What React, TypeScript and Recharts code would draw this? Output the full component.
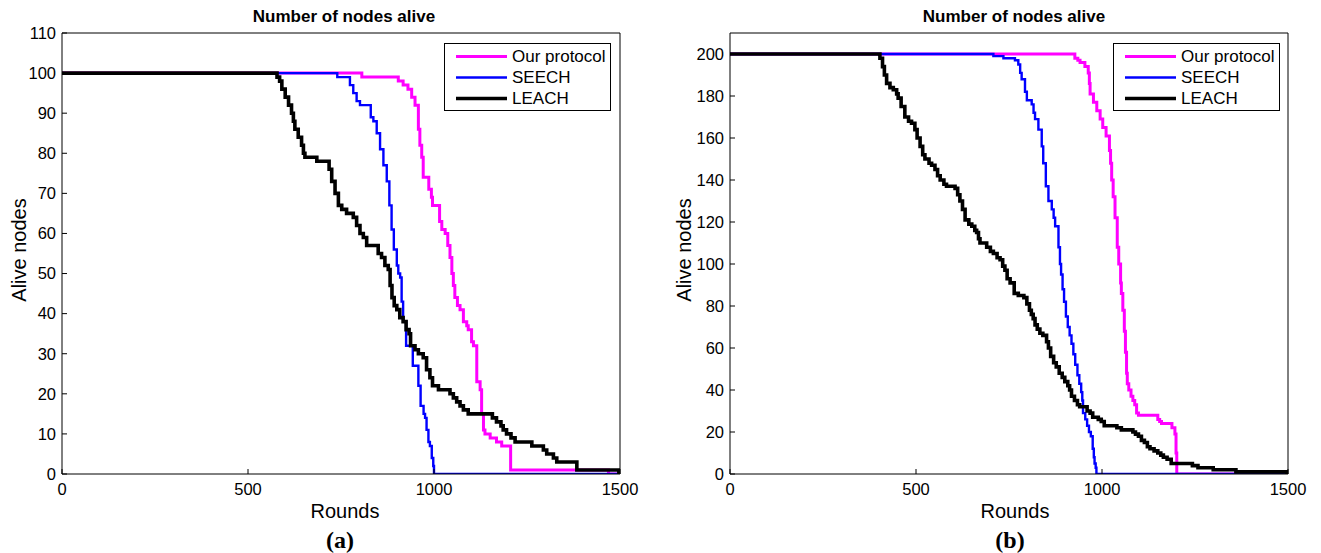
import React from 'react';
import { LineChart, Line, XAxis, YAxis, Legend } from 'recharts';

const FONT = '"Liberation Sans", Arial, Helvetica, sans-serif';

// ---------- shared ----------
const roundTicks = [0, 500, 1000, 1500];
const aliveTicksA = [0, 10, 20, 30, 40, 50, 60, 70, 80, 90, 100, 110];
const aliveTicksB = [0, 20, 40, 60, 80, 100, 120, 140, 160, 180, 200];

const seriesNames = ['Our protocol', 'SEECH', 'LEACH'];
const seriesColors = ['#ff00ff', '#0000ff', '#000000'];
const seriesWidths = [3, 2.4, 3.6];

// ---------- panel (a): 100 nodes ----------
const oursRoundsA = [0, 806, 904, 917, 930, 940, 949, 958, 962, 967, 971, 986, 993, 996, 1015, 1021, 1030, 1037, 1043, 1048, 1052, 1056, 1063, 1070, 1079, 1088, 1092, 1101, 1106, 1115, 1124, 1128, 1133, 1137, 1151, 1168, 1182, 1206, 1469, 1500];
const oursAliveA = [100, 99, 98, 97, 96, 94, 92, 86, 82, 79, 74, 71, 69, 67, 63, 61, 60, 57, 54, 50, 47, 44, 42, 41, 38, 37, 36, 33, 32, 23, 21, 15, 11, 10, 9, 8, 7, 1, 0, 0];

const seechRoundsA = [0, 740, 774, 783, 792, 801, 830, 837, 846, 855, 864, 873, 880, 886, 892, 900, 904, 909, 913, 917, 925, 943, 958, 964, 972, 976, 980, 985, 989, 994, 998, 1000, 1500];
const seechAliveA = [100, 99, 97, 95, 93, 92, 89, 88, 85, 81, 77, 73, 67, 61, 56, 52, 50, 49, 43, 38, 32, 27, 22, 17, 15, 14, 11, 8, 7, 4, 2, 0, 0];

const leachRoundsA = [0, 578, 585, 591, 600, 609, 617, 622, 626, 635, 644, 649, 653, 685, 718, 725, 734, 743, 752, 765, 783, 792, 801, 810, 819, 850, 859, 868, 877, 882, 887, 893, 900, 908, 917, 925, 933, 937, 949, 958, 971, 980, 989, 996, 1012, 1025, 1043, 1052, 1061, 1070, 1079, 1092, 1157, 1168, 1180, 1186, 1195, 1207, 1218, 1240, 1263, 1294, 1303, 1321, 1330, 1384, 1497, 1500];
const leachAliveA = [100, 99, 98, 96, 94, 92, 90, 88, 86, 84, 82, 80, 79, 78, 76, 73, 70, 67, 66, 65, 64, 62, 60, 59, 57, 55, 54, 52, 51, 47, 44, 42, 41, 39, 38, 36, 35, 32, 31, 30, 29, 26, 24, 22, 21, 21, 20, 19, 18, 17, 16, 15, 14, 13, 12, 11, 10, 9, 8, 8, 7, 6, 5, 4, 3, 1, 0, 0];

// ---------- panel (b): 200 nodes ----------
const oursRoundsB = [0, 927, 935, 941, 954, 963, 966, 968, 977, 986, 995, 1002, 1011, 1020, 1023, 1026, 1030, 1035, 1041, 1045, 1050, 1052, 1056, 1060, 1063, 1066, 1068, 1072, 1078, 1083, 1088, 1093, 1098, 1150, 1155, 1160, 1188, 1196, 1199, 1201, 1500];
const oursAliveB = [200, 198, 197, 196, 194, 191, 186, 181, 177, 173, 169, 165, 161, 154, 148, 140, 132, 122, 108, 100, 91, 86, 78, 68, 58, 48, 43, 40, 37, 35, 33, 29, 28, 26, 25, 24, 22, 19, 10, 0, 0];

const seechRoundsB = [0, 708, 735, 766, 775, 780, 784, 793, 798, 811, 816, 820, 829, 838, 842, 849, 856, 865, 870, 874, 883, 887, 890, 894, 898, 903, 908, 913, 918, 923, 928, 934, 939, 944, 947, 949, 955, 960, 965, 970, 975, 978, 980, 983, 985, 1500];
const seechAliveB = [200, 199, 198, 197, 195, 191, 188, 182, 178, 176, 172, 169, 164, 156, 148, 137, 130, 126, 122, 118, 108, 100, 95, 88, 82, 75, 70, 66, 62, 57, 52, 47, 43, 39, 35, 29, 26, 23, 20, 18, 12, 8, 5, 3, 0, 0];

const leachRoundsB = [0, 403, 410, 415, 421, 430, 439, 448, 452, 460, 470, 480, 488, 497, 503, 511, 518, 524, 535, 542, 551, 558, 565, 575, 582, 605, 612, 618, 625, 632, 642, 650, 658, 663, 668, 672, 690, 700, 708, 718, 726, 733, 739, 745, 753, 764, 775, 790, 798, 805, 810, 815, 820, 826, 833, 841, 851, 856, 862, 870, 877, 885, 893, 900, 908, 913, 918, 926, 934, 940, 960, 968, 975, 990, 998, 1006, 1040, 1052, 1083, 1090, 1098, 1106, 1114, 1122, 1129, 1140, 1150, 1158, 1165, 1175, 1186, 1243, 1258, 1299, 1360, 1497, 1500];
const leachAliveB = [200, 198, 194, 190, 186, 184, 183, 181, 179, 175, 170, 168, 167, 164, 160, 156, 152, 150, 148, 147, 145, 142, 140, 138, 137, 136, 133, 130, 126, 121, 119, 118, 116, 115, 112, 110, 108, 106, 105, 103, 102, 99, 97, 93, 91, 86, 85, 84, 81, 78, 76, 74, 71, 69, 67, 66, 63, 60, 56, 53, 51, 48, 46, 44, 42, 40, 37, 35, 33, 32, 30, 29, 27, 26, 25, 23, 22, 21, 20, 19, 18, 16, 15, 13, 12, 11, 10, 9, 8, 7, 5, 4, 3, 2, 1, 0, 0];

type Pt = { r: number; v: number };
const zip = (rs: number[], vs: number[]): Pt[] => rs.map((r, i) => ({ r, v: vs[i] }));

const tickStyle = { fill: '#000', fontSize: 16.5, fontFamily: FONT };

function LegendBox(props: any) {
  const payload = props.payload || [];
  const items = seriesNames.map((n, i) => {
    const found = payload.find((p: any) => p.value === n);
    return { name: n, color: found ? found.color : seriesColors[i], w: seriesWidths[i] };
  });
  return (
    <div
      style={{
        boxSizing: 'border-box',
        width: 167,
        height: 68,
        border: '1px solid #000',
        background: '#fff',
        paddingTop: 2,
        fontFamily: FONT,
        fontSize: 17,
        color: '#000',
      }}
    >
      {items.map((it) => (
        <div key={it.name} style={{ display: 'flex', alignItems: 'center', height: 21 }}>
          <svg width={67} height={21} style={{ display: 'block' }}>
            <line x1={11} x2={62} y1={10.5} y2={10.5} stroke={it.color} strokeWidth={it.w} />
          </svg>
          <span style={{ whiteSpace: 'nowrap', lineHeight: 1 }}>{it.name}</span>
        </div>
      ))}
    </div>
  );
}

type PanelProps = {
  left: number;
  width: number;
  plotLeft: number;
  plotRight: number;
  yMax: number;
  yTicks: number[];
  ours: Pt[];
  seech: Pt[];
  leach: Pt[];
  titleX: number;
  ylabX: number;
  xlabX: number;
  letterX: number;
  letter: string;
  legendLeft: number;
};

const PLOT_TOP = 33;
const PLOT_BOTTOM = 474;
const H = 553;

function Panel(p: PanelProps) {
  const leftAxisW = 50;
  const rightAxisW = 1;
  const bottomAxisH = 30;
  const topAxisH = 1;
  const margin = {
    top: PLOT_TOP - topAxisH,
    bottom: H - PLOT_BOTTOM - bottomAxisH,
    left: p.plotLeft - leftAxisW,
    right: p.width - p.plotRight - rightAxisW,
  };
  const series = [p.ours, p.seech, p.leach];
  const center: React.CSSProperties = {
    position: 'absolute',
    transform: 'translate(-50%, -50%)',
    whiteSpace: 'nowrap',
    lineHeight: 1,
    color: '#000',
  };
  return (
    <div style={{ position: 'absolute', left: p.left, top: 0, width: p.width, height: H }}>
      <LineChart width={p.width} height={H} margin={margin}>
        <XAxis
          xAxisId="b"
          dataKey="r"
          type="number"
          domain={[0, 1500]}
          ticks={roundTicks}
          allowDataOverflow
          orientation="bottom"
          height={bottomAxisH}
          tickSize={-5}
          tickMargin={14}
          axisLine={{ stroke: '#000' }}
          tickLine={{ stroke: '#000' }}
          tick={tickStyle}
        />
        <XAxis
          xAxisId="t"
          dataKey="r"
          type="number"
          domain={[0, 1500]}
          ticks={roundTicks}
          allowDataOverflow
          orientation="top"
          height={topAxisH}
          tickSize={-5}
          axisLine={{ stroke: '#000' }}
          tickLine={{ stroke: '#000' }}
          tick={false}
        />
        <YAxis
          yAxisId="l"
          type="number"
          domain={[0, p.yMax]}
          ticks={p.yTicks}
          allowDataOverflow
          orientation="left"
          width={leftAxisW}
          tickSize={-5}
          tickMargin={11}
          axisLine={{ stroke: '#000' }}
          tickLine={{ stroke: '#000' }}
          tick={tickStyle}
        />
        <YAxis
          yAxisId="r"
          type="number"
          domain={[0, p.yMax]}
          ticks={p.yTicks}
          allowDataOverflow
          orientation="right"
          width={rightAxisW}
          tickSize={-5}
          axisLine={{ stroke: '#000' }}
          tickLine={{ stroke: '#000' }}
          tick={false}
        />
        {series.map((d, i) => (
          <Line
            key={seriesNames[i]}
            xAxisId="b"
            yAxisId="l"
            data={d}
            dataKey="v"
            name={seriesNames[i]}
            type="stepAfter"
            stroke={seriesColors[i]}
            strokeWidth={seriesWidths[i]}
            dot={false}
            activeDot={false}
            isAnimationActive={false}
          />
        ))}
        <Legend
          layout="horizontal"
          verticalAlign="middle"
          align="center"
          content={<LegendBox />}
          wrapperStyle={{ left: p.legendLeft, top: 43, width: 167, height: 68 }}
        />
      </LineChart>
      <div style={{ ...center, left: p.titleX, top: 16, fontFamily: FONT, fontWeight: 'bold', fontSize: 17 }}>
        Number of nodes alive
      </div>
      <div
        style={{
          ...center,
          left: p.ylabX,
          top: 250,
          fontFamily: FONT,
          fontSize: 20,
          transform: 'translate(-50%, -50%) rotate(-90deg)',
        }}
      >
        Alive nodes
      </div>
      <div style={{ ...center, left: p.xlabX, top: 511, fontFamily: FONT, fontSize: 20 }}>Rounds</div>
      <div
        style={{
          ...center,
          left: p.letterX,
          top: 540,
          fontFamily: '"Liberation Serif", "Times New Roman", serif',
          fontWeight: 'bold',
          fontSize: 24,
        }}
      >
        {p.letter}
      </div>
    </div>
  );
}

export default function App() {
  return (
    <div style={{ position: 'absolute', left: 0, top: 0, width: 1321, height: 553, background: '#fff', overflow: 'hidden' }}>
      <Panel
        left={0}
        width={660}
        plotLeft={62}
        plotRight={620}
        yMax={110}
        yTicks={aliveTicksA}
        ours={zip(oursRoundsA, oursAliveA)}
        seech={zip(seechRoundsA, seechAliveA)}
        leach={zip(leachRoundsA, leachAliveA)}
        titleX={344}
        ylabX={19}
        xlabX={345}
        letterX={340}
        letter="(a)"
        legendLeft={444}
      />
      <Panel
        left={660}
        width={661}
        plotLeft={70}
        plotRight={628}
        yMax={210}
        yTicks={aliveTicksB}
        ours={zip(oursRoundsB, oursAliveB)}
        seech={zip(seechRoundsB, seechAliveB)}
        leach={zip(leachRoundsB, leachAliveB)}
        titleX={354}
        ylabX={24}
        xlabX={355}
        letterX={350}
        letter="(b)"
        legendLeft={453}
      />
    </div>
  );
}
